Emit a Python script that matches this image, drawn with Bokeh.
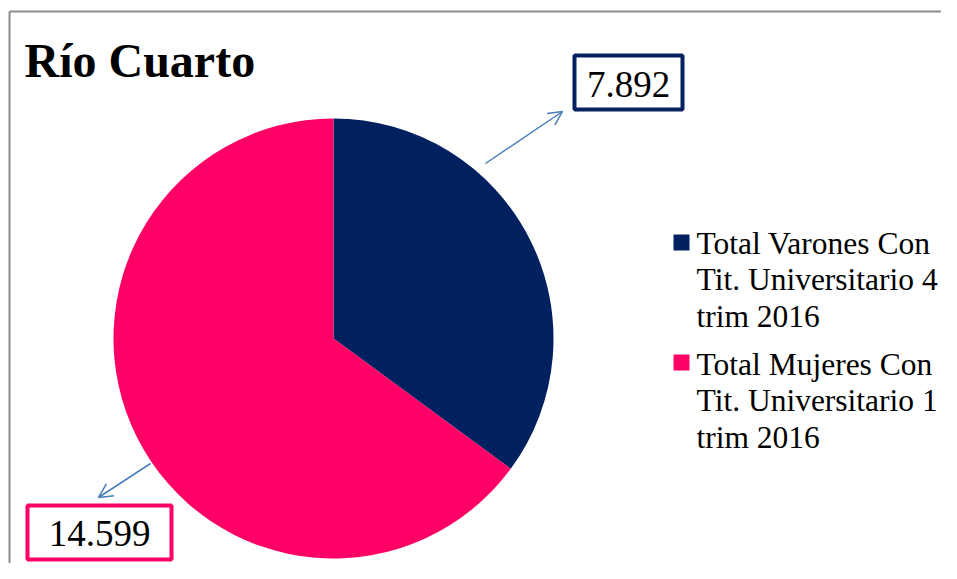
import math
from bokeh.plotting import figure
from bokeh.models import Range1d, Arrow, OpenHead, ColumnDataSource
from bokeh.core.properties import value
from bokeh.embed import file_html
from bokeh.resources import INLINE

# ---- data ----
title = "Río Cuarto"
categories = ["Total Varones Con\nTit. Universitario 4\ntrim 2016",
              "Total Mujeres Con\nTit. Universitario 1\ntrim 2016"]
values = [7892, 14599]
labels = ["7.892", "14.599"]
colors = ["#002060", "#FF0066"]

W, H = 941, 563
def sx(x):  # picture px -> data x
    return x
def sy(y):  # picture px (top-down) -> data y
    return H - y

p = figure(width=W, height=H, output_backend="svg", toolbar_location=None,
           x_range=Range1d(0, W), y_range=Range1d(0, H), min_border=0)
p.axis.visible = False
p.grid.visible = False
p.outline_line_color = None
p.background_fill_color = "white"
p.border_fill_color = "white"

# chart border (left and top visible)
p.segment(x0=[sx(9), sx(9)], y0=[sy(11), sy(11)], x1=[sx(9), sx(1000)], y1=[sy(700), sy(11)],
          line_color="#8c8c8c", line_width=2)

# pie
total = sum(values)
starts, ends = [], []
ang = math.pi / 2
for v in values:
    a = 2 * math.pi * v / total
    starts.append(ang - a)
    ends.append(ang)
    ang -= a
src = ColumnDataSource(dict(start=starts, end=ends, color=colors))
p.wedge(x=sx(333), y=sy(338), radius=220, start_angle="start", end_angle="end",
        fill_color="color", line_color=None, source=src)

# title
p.text(x=[sx(24)], y=[sy(60)], text=[title], text_font=value("Liberation Serif"),
       text_font_style="bold", text_font_size="48px", text_baseline="middle",
       text_align="left", text_color="black")

# value label boxes
box_l = [sx(574), sx(27)]
box_r = [sx(682), sx(171)]
box_t = [sy(55), sy(505)]
box_b = [sy(109), sy(559)]
p.quad(left=box_l, right=box_r, top=box_t, bottom=box_b, fill_color="white",
       line_color=colors, line_width=4)
p.text(x=[sx(628), sx(99)], y=[sy(84), sy(533)], text=labels,
       text_font=value("Liberation Serif"), text_font_size="37px",
       text_align="center", text_baseline="middle", text_color="black")

# arrows
for (x0, y0, x1, y1) in [(485, 163, 562, 111), (150, 463, 98, 497)]:
    p.add_layout(Arrow(end=OpenHead(size=14, line_color="#4A7EBB", line_width=1.5),
                       x_start=sx(x0), y_start=sy(y0), x_end=sx(x1), y_end=sy(y1),
                       line_color="#4A7EBB", line_width=1.5))

# legend
group_top = [242.5, 363.5]   # first-line centres
line_step = 36.5
p.rect(x=[sx(681), sx(681)], y=[sy(242), sy(362)], width=16, height=16,
       fill_color=colors, line_color=None)
lx, ly, lt = [], [], []
for g, cat in enumerate(categories):
    for i, line in enumerate(cat.split("\n")):
        lx.append(sx(696))
        ly.append(sy(group_top[g] + i * line_step))
        lt.append(line)
p.text(x=lx, y=ly, text=lt, text_font=value("Liberation Serif"), text_font_size="31.5px",
       text_align="left", text_baseline="middle", text_color="black")

open("out.html", "w").write(file_html(p, INLINE))
